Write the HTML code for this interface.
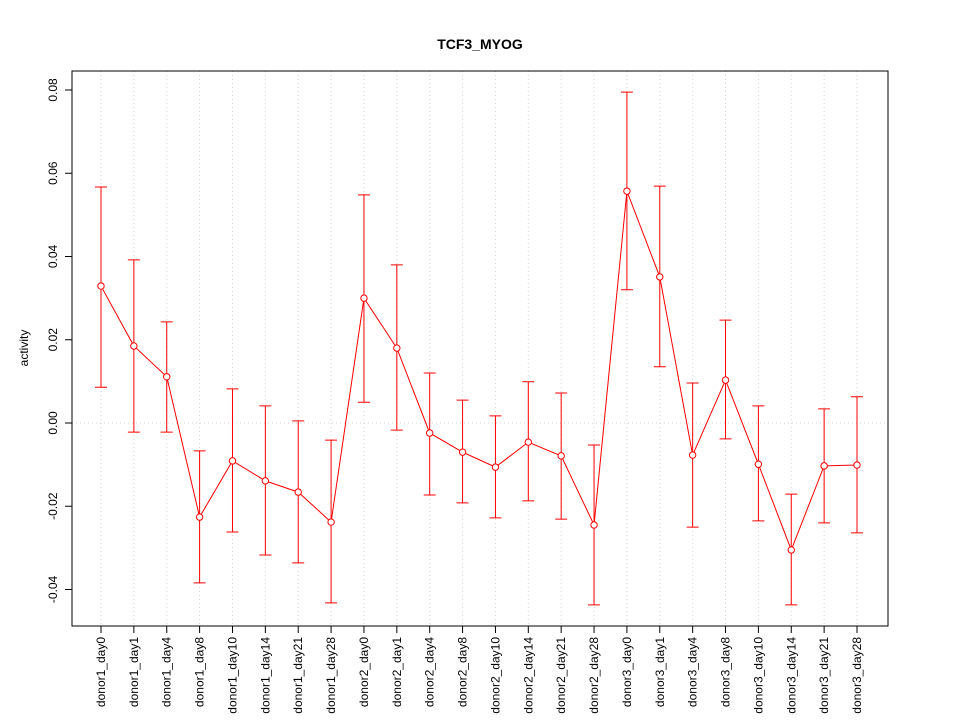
<!DOCTYPE html>
<html><head><meta charset="utf-8"><style>
body{margin:0;background:#fff;}
svg text{font-family:"Liberation Sans",sans-serif;}
</style></head><body>
<svg id="chart" width="960" height="720" xmlns="http://www.w3.org/2000/svg">
<rect width="960" height="720" fill="#fff"/>
<text x="480" y="49" text-anchor="middle" font-size="14" font-weight="bold">TCF3_MYOG</text>
<text transform="translate(28,348) rotate(-90)" text-anchor="middle" font-size="12">activity</text>
<g id="grid"></g><g id="axes"></g><g id="marks"></g>
<rect x="72" y="71" width="816" height="555" fill="none" stroke="#000"/>
</svg>
<script>
const categories=["donor1_day0","donor1_day1","donor1_day4","donor1_day8","donor1_day10","donor1_day14","donor1_day21","donor1_day28","donor2_day0","donor2_day1","donor2_day4","donor2_day8","donor2_day10","donor2_day14","donor2_day21","donor2_day28","donor3_day0","donor3_day1","donor3_day4","donor3_day8","donor3_day10","donor3_day14","donor3_day21","donor3_day28"];
const values=[0.0329,0.0185,0.0111,-0.0226,-0.0091,-0.0139,-0.0166,-0.0238,0.0300,0.0180,-0.0024,-0.0070,-0.0106,-0.0046,-0.0079,-0.0245,0.0557,0.0351,-0.0077,0.0103,-0.0099,-0.0305,-0.0103,-0.0101];
const upper=[0.0567,0.0392,0.0243,-0.0067,0.0082,0.0041,0.0005,-0.0041,0.0548,0.0380,0.0120,0.0055,0.0017,0.0099,0.0072,-0.0053,0.0795,0.0569,0.0096,0.0247,0.0041,-0.0171,0.0034,0.0063];
const lower=[0.0086,-0.0022,-0.0022,-0.0384,-0.0262,-0.0317,-0.0336,-0.0432,0.0050,-0.0017,-0.0173,-0.0192,-0.0228,-0.0187,-0.0231,-0.0437,0.0320,0.0135,-0.0250,-0.0038,-0.0235,-0.0437,-0.0240,-0.0264];
const yTicks=[-0.04,-0.02,0,0.02,0.04,0.06,0.08];
const yTickLabels=["-0.04","-0.02","0.00","0.02","0.04","0.06","0.08"];
const NS="http://www.w3.org/2000/svg";
function x(i){return 101+i*(857-101)/(categories.length-1);}
function y(v){return 423-v*4162.5;}
function mk(t,a,p){const e=document.createElementNS(NS,t);for(const k in a)e.setAttribute(k,a[k]);p.appendChild(e);return e;}
const grid=document.getElementById('grid'),axes=document.getElementById('axes'),marks=document.getElementById('marks');
categories.forEach((c,i)=>{
 const g=mk('line',{x1:x(i),x2:x(i),y1:71,y2:626,stroke:'#d3d3d3','stroke-dasharray':'1,3'},grid);
 
 
 const t=mk('line',{x1:x(i),x2:x(i),y1:626,y2:633,stroke:'#000'},axes);
 
 
 const l=mk('text',{transform:`translate(${x(i)+4},637) rotate(-90)`,'text-anchor':'end','font-size':'12'},axes);
 l.textContent=c;
 
 
});
const zg=mk('line',{x1:72,x2:888,y1:y(0),y2:y(0),stroke:'#d3d3d3','stroke-dasharray':'1,3'},grid);


yTicks.forEach((v,i)=>{
 const t=mk('line',{x1:65,x2:72,y1:y(v),y2:y(v),stroke:'#000'},axes);
 
 
 const l=mk('text',{transform:`translate(57,${y(v)}) rotate(-90)`,'text-anchor':'middle','font-size':'12'},axes);
 l.textContent=yTickLabels[i];
 
 
});
const line=mk('polyline',{points:values.map((v,i)=>x(i)+','+y(v)).join(' '),fill:'none',stroke:'#ff0000'},marks);


values.forEach((v,i)=>{
 const e=mk('path',{d:`M${x(i)},${y(upper[i])}V${y(lower[i])}M${x(i)-6},${y(upper[i])}H${x(i)+6}M${x(i)-6},${y(lower[i])}H${x(i)+6}`,stroke:'#ff0000',fill:'none'},marks);
 
 
 const p=mk('circle',{cx:x(i),cy:y(v),r:3.2,fill:'#fff',stroke:'#ff0000'},marks);
 
 
});
</script>
</body></html>
